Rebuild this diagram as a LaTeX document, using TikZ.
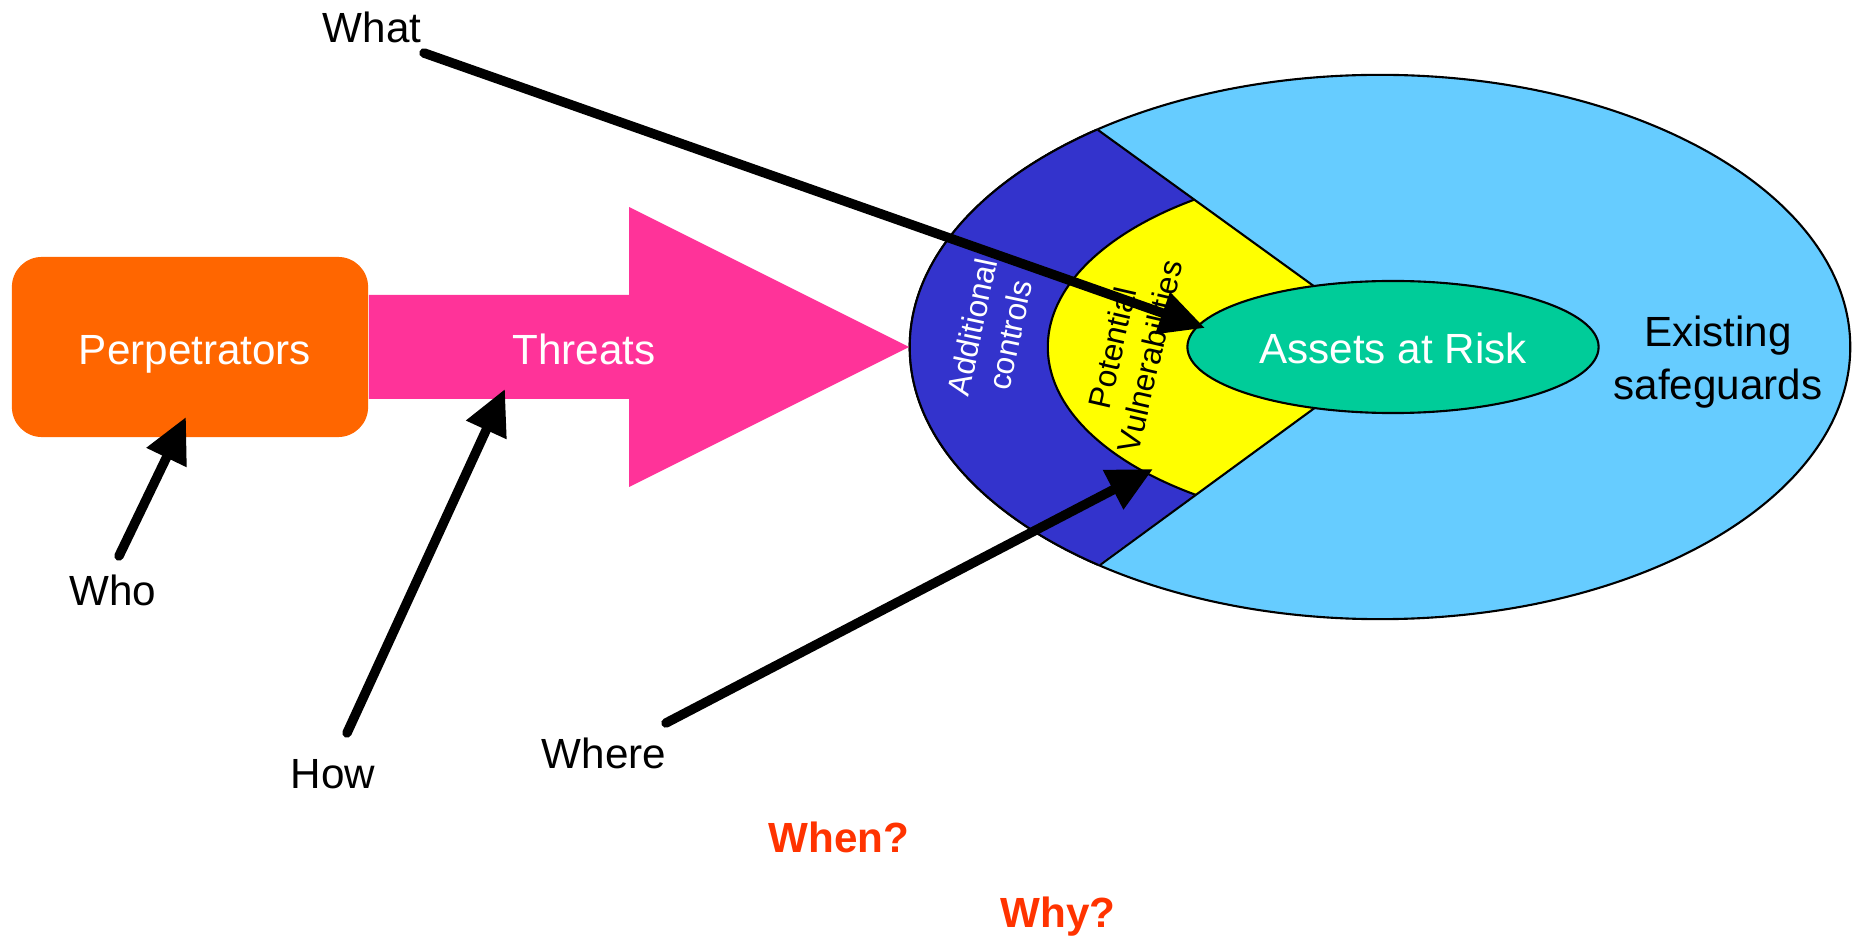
\documentclass[tikz,border=0pt]{standalone}
\usepackage{fontspec}
\setmainfont{Liberation Sans}
\usetikzlibrary{arrows.meta,shapes.geometric}

\definecolor{perporange}{HTML}{FF6600}
\definecolor{threatpink}{HTML}{FF3399}
\definecolor{safeblue}{HTML}{66CCFF}
\definecolor{ctrlblue}{HTML}{3333CC}
\definecolor{vulnyellow}{HTML}{FFFF00}
\definecolor{assetgreen}{HTML}{00CC99}
\definecolor{askred}{HTML}{FF3300}

\begin{document}
\begin{tikzpicture}[x=0.01cm, y=-0.01cm,
  lbl/.style={font=\fontsize{12}{15}\selectfont, inner sep=0pt},
  ask/.style={lbl, font=\fontsize{12}{15}\selectfont\bfseries, text=askred, anchor=base},
  side/.style={font=\fontsize{9}{11}\selectfont, align=center, inner sep=0pt},
  ring/.style={draw=black, line width=0.6pt},
  qarrow/.style={line width=0.095cm, line cap=round, -{Triangle[length=0.45cm,width=0.42cm]}}]
  \useasboundingbox (0,0) rectangle (1857,937);

  % rings round the assets
  \coordinate (core) at (1398,347);
  \coordinate (wtop) at (1098,130);
  \coordinate (wbot) at (1100,565);
  \filldraw[fill=safeblue, ring] (1380,347) ellipse [x radius=4.7cm, y radius=2.72cm];
  \begin{scope}
    \clip (core) -- (798,-87) -- (798,783) -- cycle;
    \filldraw[fill=ctrlblue, ring] (1380,347) ellipse [x radius=4.7cm, y radius=2.72cm];
    \filldraw[fill=vulnyellow, ring] (core) ellipse [x radius=3.5cm, y radius=1.81cm];
  \end{scope}
  \draw[ring] (wtop) -- (core) -- (wbot);
  \node[lbl, ellipse, ring, fill=assetgreen, minimum width=4.11cm, minimum height=1.32cm] (assets) at (1393,347) {};
  \node[lbl, text=white, anchor=base] (assetstxt) at (1393,364) {Assets at Risk};
  \node[lbl, align=center] (safe) at (1718,362) {Existing\\safeguards};
  \node[side, text=white, rotate=78] (ctrl) at (991,331) {Additional\\controls};
  \node[side, rotate=77] (vuln) at (1131,352) {Potential\\Vulnerabilities};

  % perpetrators and threats
  \node[lbl, fill=perporange, rounded corners=0.3cm, minimum width=3.56cm, minimum height=1.8cm] (perp) at (190,347) {};
  \node[lbl, text=white, anchor=base] (perptxt) at (195,365) {Perpetrators};
  \fill[threatpink] (perp.east |- 0,295) -- (629,295) -- (629,207) -- (909,347)
    -- (629,487) -- (629,399) -- (perp.east |- 0,399) -- cycle;
  \node[lbl, text=white, anchor=base] (threats) at (584,365) {Threats};

  % questions
  \node[lbl, anchor=base] (what) at (372,43) {What};
  \node[lbl, anchor=base] (who) at (113,606) {Who};
  \node[lbl, anchor=base] (how) at (333,788) {How};
  \node[lbl, anchor=base] (where) at (604,768) {Where};
  \node[ask] (when) at (839,852) {When?};
  \node[ask] (why) at (1058,927) {Why?};

  \coordinate (whatfrom) at (424,53);
  \coordinate (whatto) at (1205,328);
  \coordinate (whofrom) at (119,556);
  \coordinate (whoto) at (186,417);
  \coordinate (howfrom) at (347,733);
  \coordinate (howto) at (505,389);
  \coordinate (wherefrom) at (666,723);
  \coordinate (whereto) at (1153,469);
  \draw[qarrow] (whatfrom) -- (whatto);
  \draw[qarrow] (whofrom) -- (whoto);
  \draw[qarrow] (howfrom) -- (howto);
  \draw[qarrow] (wherefrom) -- (whereto);
\end{tikzpicture}
\end{document}
